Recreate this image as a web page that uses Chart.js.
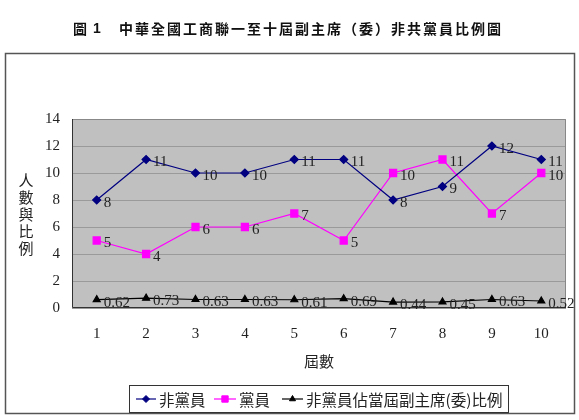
<!DOCTYPE html>
<html>
<head>
<meta charset="utf-8">
<script src="https://cdn.jsdelivr.net/npm/chart.js@4"></script>
<style>
  body { margin: 0; background: #fff; }
  #wrap { width: 579px; height: 420px; }
</style>
</head>
<body>
<div id="wrap"><canvas id="chart" width="579" height="420"></canvas></div>
<script>
const terms = ["1", "2", "3", "4", "5", "6", "7", "8", "9", "10"];
const nonParty = [8, 11, 10, 10, 11, 11, 8, 9, 12, 11];
const party = [5, 4, 6, 6, 7, 5, 10, 11, 7, 10];
const ratio = [0.62, 0.73, 0.63, 0.63, 0.61, 0.69, 0.44, 0.45, 0.63, 0.52];

const titleHead = "圖";
const titleNum = "1";
const titleText = "中華全國工商聯一至十屆副主席（委）非共黨員比例圖";
const yTitle = "人數與比例";
const xTitle = "屆數";

const serif = "'Liberation Serif', 'DejaVu Serif', serif";
const cjk = "'Noto Sans CJK TC', 'Noto Sans CJK SC', sans-serif";

// frame, plot background, title, y title, labels, legend
const framePlugin = {
  id: "frame",
  beforeDraw(chart) {
    const ctx = chart.ctx;
    const a = chart.chartArea;
    ctx.save();
    ctx.fillStyle = "#fff";
    ctx.fillRect(0, 0, chart.width, chart.height);
    ctx.strokeStyle = "#555";
    ctx.lineWidth = 1.5;
    ctx.strokeRect(5.5, 53.5, 569, 360);
    ctx.fillStyle = "#c0c0c0";
    ctx.fillRect(a.left, a.top, a.right - a.left, a.bottom - a.top);

    // title, char by char for the wide spacing
    ctx.fillStyle = "#111";
    ctx.font = "bold 14px " + cjk;
    ctx.textBaseline = "middle";
    ctx.textAlign = "left";
    ctx.fillText(titleHead, 73, 29);
    ctx.font = "bold 14px 'Liberation Sans', sans-serif";
    ctx.fillText(titleNum, 93, 29);
    ctx.font = "bold 14px " + cjk;
    let x = 119;
    for (const ch of titleText) {
      ctx.fillText(ch, x, 29);
      x += 16;
    }

    // y axis title, upright stacked characters
    ctx.font = "15px " + cjk;
    ctx.textAlign = "center";
    ctx.fillStyle = "#222";
    let y = 180;
    for (const ch of yTitle) {
      ctx.fillText(ch, 26, y);
      y += 17;
    }
    ctx.restore();
  },
  afterDatasetsDraw(chart) {
    const ctx = chart.ctx;
    const a = chart.chartArea;
    ctx.save();
    ctx.lineWidth = 1;
    ctx.strokeStyle = "#888";
    ctx.beginPath();
    ctx.moveTo(a.left, a.top + 0.5);
    ctx.lineTo(a.right - 0.5, a.top + 0.5);
    ctx.lineTo(a.right - 0.5, a.bottom);
    ctx.stroke();
    ctx.strokeStyle = "#333";
    ctx.beginPath();
    ctx.moveTo(a.left + 0.5, a.top);
    ctx.lineTo(a.left + 0.5, a.bottom - 0.5);
    ctx.lineTo(a.right, a.bottom - 0.5);
    ctx.stroke();

    // value labels right of each point
    ctx.font = "15px " + serif;
    ctx.fillStyle = "#222";
    ctx.textAlign = "left";
    ctx.textBaseline = "middle";
    chart.data.datasets.forEach((ds, i) => {
      const meta = chart.getDatasetMeta(i);
      meta.data.forEach((pt, j) => {
        ctx.fillText(String(ds.data[j]), pt.x + 7, pt.y + 3);
      });
    });

    // legend
    const lx = 129.5, ly = 385.5, lw = 379, lh = 27;
    ctx.fillStyle = "#fff";
    ctx.fillRect(lx, ly, lw, lh);
    ctx.strokeStyle = "#333";
    ctx.lineWidth = 1;
    ctx.strokeRect(lx, ly, lw, lh);
    const items = [
      { seg: [136, 156], text: 159 },
      { seg: [214, 236], text: 239 },
      { seg: [282, 303], text: 306 }
    ];
    ctx.font = "15.5px " + cjk;
    chart.data.datasets.forEach((ds, i) => {
      const it = items[i];
      const cy = ly + lh / 2;
      ctx.strokeStyle = ds.borderColor;
      ctx.fillStyle = ds.borderColor;
      ctx.lineWidth = 1.2;
      ctx.beginPath();
      ctx.moveTo(it.seg[0], cy);
      ctx.lineTo(it.seg[1], cy);
      ctx.stroke();
      ctx.lineWidth = 1;
      Chart.helpers.drawPoint(ctx, {
        pointStyle: ds.pointStyle,
        radius: ds.pointRadius - 0.5,
        borderWidth: 1
      }, (it.seg[0] + it.seg[1]) / 2, cy);
      ctx.fillStyle = "#222";
      ctx.fillText(ds.label, it.text, cy + 1);
    });
    ctx.restore();
  }
};

new Chart(document.getElementById("chart"), {
  type: "line",
  data: {
    labels: terms,
    datasets: [
      {
        label: "非黨員",
        data: nonParty,
        borderColor: "#000080",
        backgroundColor: "#000080",
        pointStyle: "rectRot",
        pointRadius: 4,
        pointBorderColor: "#000080",
        borderWidth: 1.2,
        tension: 0
      },
      {
        label: "黨員",
        data: party,
        borderColor: "#ff00ff",
        backgroundColor: "#ff00ff",
        pointStyle: "rect",
        pointRadius: 5,
        pointBorderColor: "#ff00ff",
        borderWidth: 1.2,
        tension: 0
      },
      {
        label: "非黨員佔當屆副主席(委)比例",
        data: ratio,
        borderColor: "#000000",
        backgroundColor: "#000000",
        pointStyle: "triangle",
        pointRadius: 4,
        pointBorderColor: "#000000",
        borderWidth: 1.2,
        tension: 0
      }
    ]
  },
  options: {
    responsive: false,
    animation: false,
    layout: { padding: { top: 119, left: 0, right: 13, bottom: 42 } },
    plugins: {
      legend: { display: false },
      title: { display: false },
      tooltip: { enabled: false }
    },
    scales: {
      x: {
        offset: true,
        grid: { display: false, drawTicks: false },
        border: { display: false },
        ticks: { font: { family: serif, size: 15 }, color: "#222", padding: 17 },
        title: {
          display: true,
          text: xTitle,
          font: { family: cjk, size: 15 },
          color: "#222",
          padding: { top: 6, bottom: 8 }
        },
        afterFit(s) { s.height = 70; }
      },
      y: {
        min: 0,
        max: 14,
        ticks: { stepSize: 2, font: { family: serif, size: 15 }, color: "#222", padding: 12 },
        grid: { color: "#9a9a9a", drawTicks: false },
        border: { display: false },
        afterFit(s) { s.width = 72; }
      }
    }
  },
  plugins: [framePlugin]
});
</script>
</body>
</html>
